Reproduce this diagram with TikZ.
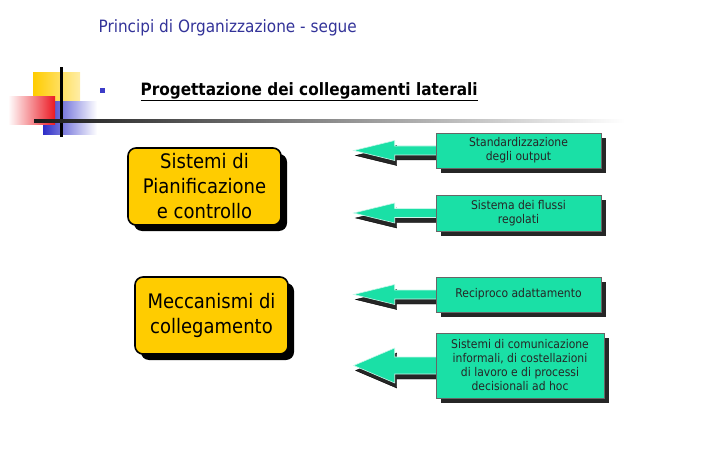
\documentclass[tikz,border=0pt]{standalone}
\usepackage{fontspec}
\setmainfont{DejaVu Sans}[FakeStretch=0.9]
\usetikzlibrary{positioning,calc,shadows,backgrounds}

\definecolor{titleblue}{RGB}{51,51,153}
\definecolor{boxyellow}{RGB}{255,204,0}
\definecolor{boxgreen}{RGB}{26,224,166}
\definecolor{bulletblue}{RGB}{60,60,200}
\definecolor{squareblue}{RGB}{45,45,200}
\definecolor{squarered}{RGB}{235,25,35}

\tikzset{
  planbox/.style={draw=black, line width=1.6pt, fill=boxyellow, rounded corners=8pt,
    minimum width=153pt, minimum height=77pt, align=center,
    font=\fontsize{20}{25}\selectfont,
    drop shadow={shadow xshift=6pt, shadow yshift=-6pt, fill=black, opacity=1}},
  linkbox/.style={draw=black!60, line width=0.6pt, fill=boxgreen, minimum width=165pt,
    align=center, text=black!85, font=\fontsize{12}{14}\selectfont,
    drop shadow={shadow xshift=5pt, shadow yshift=-5pt, fill=black!85, opacity=1}},
  arrowbody/.style={fill=boxgreen, draw=white!75!boxgreen, line width=0.6pt},
  arrowshadow/.style={fill=black!85},
}

% block arrow: box, tip, half head, half shaft
\newcommand{\sidearrow}[4]{%
  \foreach \dx/\dy/\sty in {2/5/arrowshadow, 0/0/arrowbody}{
    \filldraw[\sty]
      ($(#1.west)+(2+\dx,-#4+\dy)$) -- ($(#2)+(41+\dx,-#4+\dy)$) -- ($(#2)+(41+\dx,-#3+\dy)$)
      -- ($(#2)+(\dx,\dy)$)
      -- ($(#2)+(41+\dx,#3+\dy)$) -- ($(#2)+(41+\dx,#4+\dy)$) -- ($(#1.west)+(2+\dx,#4+\dy)$) -- cycle;
  }
}

\begin{document}
\begin{tikzpicture}[x=1pt, y=-1pt]
  \useasboundingbox (0,0) rectangle (719,462);

  % corner decoration
  \shade[left color=boxyellow, right color=boxyellow!35] (33,73) rectangle (80,104);
  \shade[left color=squareblue, right color=white] (43,102) rectangle (97,135);
  \shade[left color=white, right color=squarered] (8,97) rectangle (55,125);
  \fill[black] (60,67) rectangle (62.5,137);
  \shade[left color=black!90, middle color=black!55, right color=white] (34,120) rectangle (625,123);
  \fill[bulletblue] (100,88) rectangle (105,93);

  % titles
  \node[anchor=west, text=titleblue, font=\fontsize{17}{18}\selectfont] (title) at (95,28)
    {Principi di Organizzazione - segue};
  \node[anchor=west, font=\bfseries\fontsize{17}{18}\selectfont] (head) at (137,92)
    {\underline{Progettazione dei collegamenti laterali}};

  % left boxes
  \node[planbox] (plan) at (204.5,186.5) {Sistemi di\\Pianificazione\\e controllo};
  \node[planbox] (mech) at (211.5,315.5) {Meccanismi di\\collegamento};

  % right boxes
  \node[linkbox, minimum height=35pt] (std) at (518.5,150.5) {Standardizzazione\\degli output};
  \node[linkbox, minimum height=36pt] (flow) at (518.5,213) {Sistema dei flussi\\regolati};
  \node[linkbox, minimum height=35pt] (adapt) at (518.5,294.5) {Reciproco adattamento};
  \node[linkbox, minimum width=168pt, minimum height=65pt] (comm) at (520,365.5)
    {Sistemi di comunicazione\\informali, di costellazioni\\di lavoro e di processi\\decisionali ad hoc};

  \coordinate (stdtip) at ($(std.west)+(-82,0)$);
  \coordinate (flowtip) at ($(flow.west)+(-82,0)$);
  \coordinate (adapttip) at ($(adapt.west)+(-82,0)$);
  \coordinate (commtip) at ($(comm.west)+(-82,0)$);

  % arrows behind the boxes
  \begin{scope}[on background layer]
    \sidearrow{std}{stdtip}{10}{4.5}
    \sidearrow{flow}{flowtip}{10}{4.5}
    \sidearrow{adapt}{adapttip}{10}{4.5}
    \sidearrow{comm}{commtip}{17.5}{8.5}
  \end{scope}
\end{tikzpicture}
\end{document}
